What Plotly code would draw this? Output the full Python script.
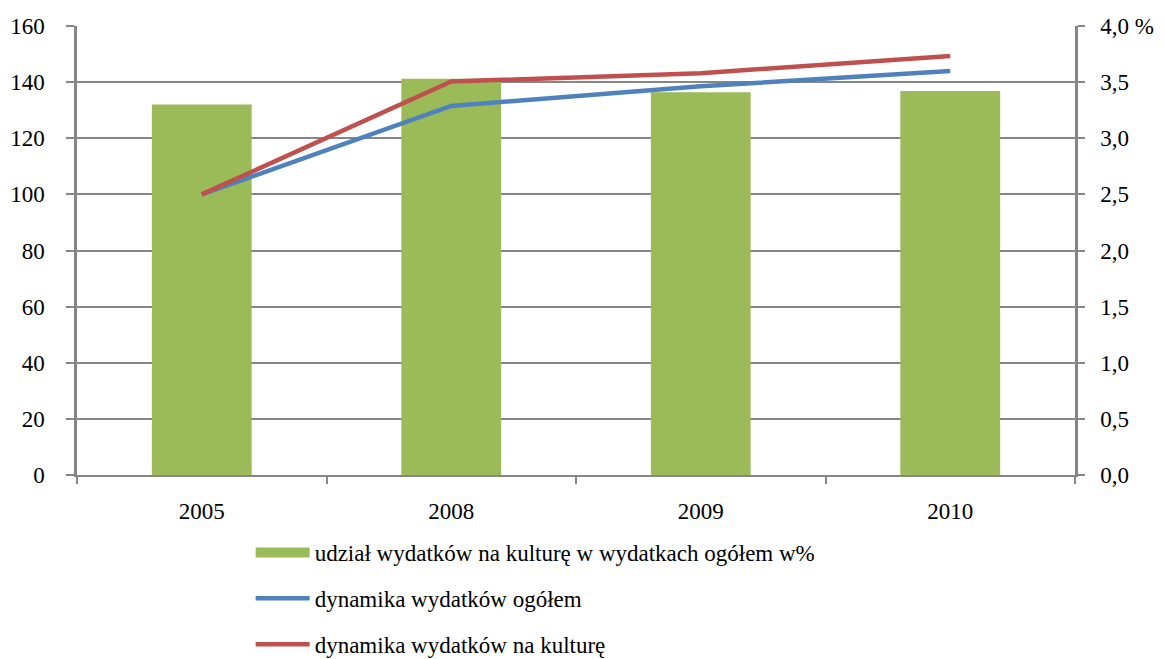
import plotly.graph_objects as go

years = ["2005", "2008", "2009", "2010"]
udzial = [3.30, 3.53, 3.41, 3.42]          # % (right axis)
dyn_ogolem = [100, 131.5, 138.5, 144.0]    # left axis
dyn_kultura = [100, 140.2, 143.2, 149.3]   # left axis

left_ticks = [0, 20, 40, 60, 80, 100, 120, 140, 160]
right_tickvals = [0, 0.5, 1.0, 1.5, 2.0, 2.5, 3.0, 3.5, 4.0]
right_ticktext = ["0,0", "0,5", "1,0", "1,5", "2,0", "2,5", "3,0", "3,5", "4,0 %"]

names = [
    "udział wydatków na kulturę w wydatkach ogółem w%",
    "dynamika wydatków ogółem",
    "dynamika wydatków na kulturę",
]

FONT = "Liberation Serif"
AXIS_COLOR = "#868686"
GREEN, BLUE, RED = "#9BBB59", "#4F81BD", "#C0504D"

fig = go.Figure()
fig.add_trace(go.Bar(
    x=years, y=udzial, name=names[0], yaxis="y",
    marker=dict(color=GREEN, line=dict(width=0)),
    showlegend=False, legendgroup="a",
))
# legend proxy for the bar series (wide rectangle symbol)
fig.add_trace(go.Scatter(
    x=[years[0]], y=[None], name=names[0], yaxis="y", mode="lines",
    line=dict(color=GREEN, width=14), legendgroup="a", showlegend=True,
    hoverinfo="skip",
))
fig.add_trace(go.Scatter(
    x=years, y=dyn_ogolem, name=names[1], yaxis="y2", mode="lines",
    line=dict(color=BLUE, width=4.5), legendgroup="b",
))
fig.add_trace(go.Scatter(
    x=years, y=dyn_kultura, name=names[2], yaxis="y2", mode="lines",
    line=dict(color=RED, width=4.5), legendgroup="c",
))

fig.update_layout(
    width=1164, height=659,
    margin=dict(l=69, r=97, t=18, b=192, autoexpand=False),
    paper_bgcolor="white", plot_bgcolor="white",
    font=dict(family=FONT, size=23, color="#000000"),
    bargap=0.6,
    showlegend=True,
    legend=dict(
        orientation="v", xref="paper", x=0.174, xanchor="left",
        yref="container", y=0.2064, yanchor="top",
        font=dict(family=FONT, size=23), tracegroupgap=13, itemwidth=54,
        bgcolor="rgba(0,0,0,0)", borderwidth=0,
    ),
    xaxis=dict(
        type="category", showline=True, linecolor=AXIS_COLOR, linewidth=2,
        ticks="outside", tickson="boundaries", ticklen=7, tickcolor=AXIS_COLOR,
        tickwidth=2, showgrid=False, tickfont=dict(family=FONT, size=23),
        ticklabelstandoff=14, automargin=False,
    ),
    yaxis=dict(
        side="right", range=[0, 4], tickvals=right_tickvals, ticktext=right_ticktext,
        showline=True, linecolor=AXIS_COLOR, linewidth=2.5,
        ticks="outside", ticklen=7, tickcolor=AXIS_COLOR, tickwidth=2,
        showgrid=True, gridcolor=AXIS_COLOR, gridwidth=1.5, zeroline=False,
        tickfont=dict(family=FONT, size=23), ticklabelstandoff=11,
        automargin=False,
    ),
    yaxis2=dict(
        overlaying="y", side="left", range=[0, 160], tickvals=left_ticks,
        showline=True, linecolor=AXIS_COLOR, linewidth=2.5,
        ticks="outside", ticklen=8, tickcolor=AXIS_COLOR, tickwidth=2,
        showgrid=False, zeroline=False, tickfont=dict(family=FONT, size=23),
        ticklabelstandoff=17, automargin=False,
    ),
)

fig.write_html("out.html")
